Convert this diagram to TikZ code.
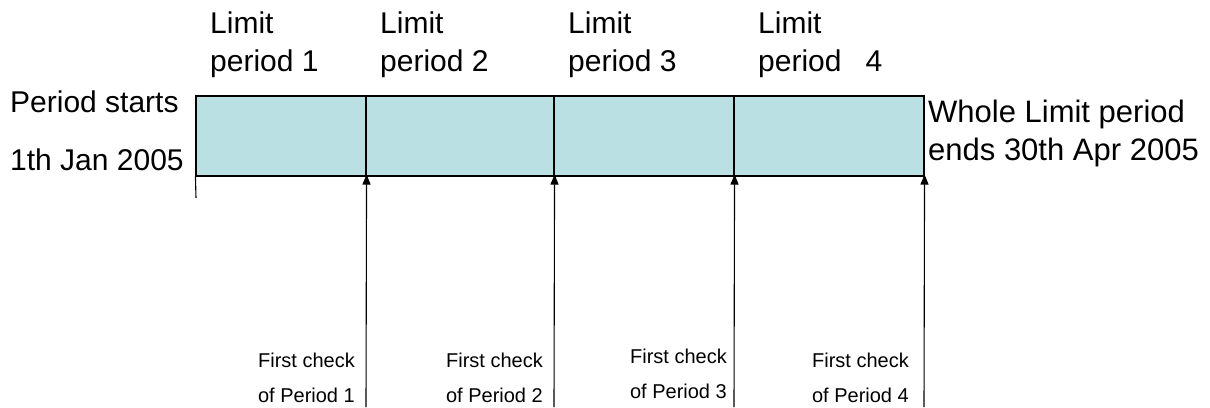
\documentclass[tikz,border=0pt]{standalone}
\usepackage{fontspec}
\setmainfont{Liberation Sans}
\usetikzlibrary{arrows.meta}
\definecolor{boxfill}{RGB}{186,224,227}
\tikzset{
  seg/.style={draw=black, line width=1.1pt, fill=boxfill, inner sep=0pt, minimum height=80pt},
  toplab/.style={anchor=base west, align=left, inner sep=0pt, font=\fontsize{30}{38}\selectfont},
  sidelab/.style={anchor=base west, align=left, inner sep=0pt},
  chklab/.style={anchor=base east, align=right, inner sep=0pt, font=\fontsize{20}{35}\selectfont},
  upar/.style={line width=1.1pt, -{Triangle[width=8pt,length=10pt]}},
}
\begin{document}
\begin{tikzpicture}[x=1pt,y=-1pt]
\useasboundingbox (0,0) rectangle (1210,407);
% box segments
\node[seg, minimum width=170pt] (p1) at (281,136) {};
\node[seg, minimum width=188pt] (p2) at (460,136) {};
\node[seg, minimum width=180pt] (p3) at (644,136) {};
\node[seg, minimum width=190pt] (p4) at (829,136) {};
% left tick
\coordinate (t0) at (196,198);
\draw[line width=1.1pt] (p1.south west) -- (t0);
% arrow feet
\coordinate (a1) at (366,407);
\coordinate (a2) at (554,407);
\coordinate (a3) at (734,407);
\coordinate (a4) at (924,407);
\draw[upar] (a1) -- ([yshift=2pt]p1.south east);
\draw[upar] (a2) -- ([yshift=2pt]p2.south east);
\draw[upar] (a3) -- ([yshift=2pt]p3.south east);
\draw[upar] (a4) -- ([yshift=2pt]p4.south east);
% top labels
\node[toplab] (l1) at (210,71) {Limit\\period 1};
\node[toplab] (l2) at (380,71) {Limit\\period 2};
\node[toplab] (l3) at (568,71) {Limit\\period 3};
\node[toplab] (l4) at (758,71) {Limit\\period\hspace{24pt}4};
% side labels
\node[sidelab, font=\fontsize{30}{58}\selectfont] (start) at (10,170) {Period starts\\1th Jan 2005};
\node[sidelab, font=\fontsize{31}{38}\selectfont] (end) at (928,160) {Whole Limit period\\ends 30th Apr 2005};
% check labels
\node[chklab] (c1) at (355,402) {First check\\of Period 1};
\node[chklab] (c2) at (543,402) {First check\\of Period 2};
\node[chklab] (c3) at (727,398) {First check\\of Period 3};
\node[chklab] (c4) at (909,402) {First check\\of Period 4};
\end{tikzpicture}
\end{document}
